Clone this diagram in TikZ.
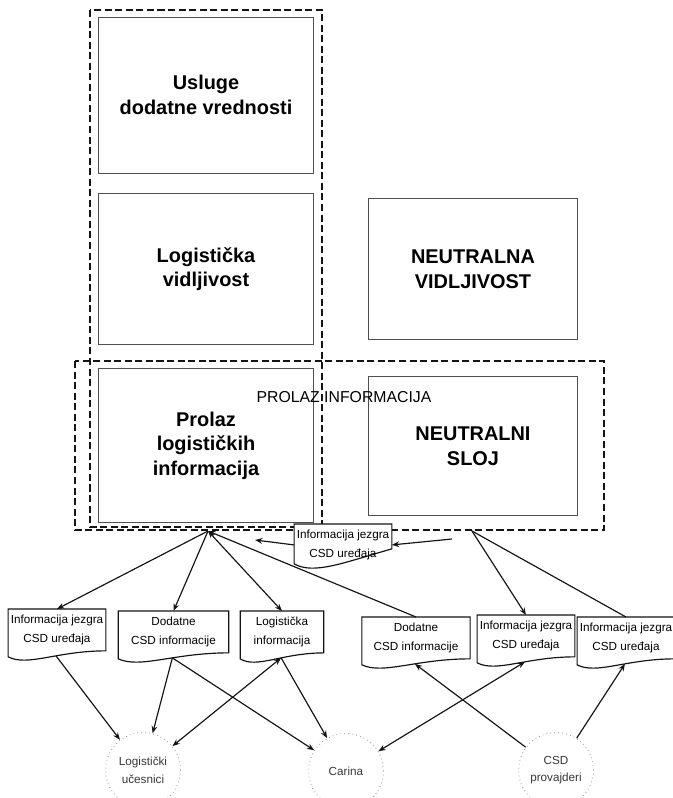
\documentclass[tikz,border=0pt]{standalone}
\usepackage{fontspec}
\setmainfont{Liberation Sans}
\usetikzlibrary{arrows.meta,calc,backgrounds}
\definecolor{ink}{RGB}{20,20,20}
\definecolor{mist}{RGB}{150,150,150}
\tikzset{
  >={Stealth[length=2.2mm,width=1.7mm]},
  sloj/.style={draw=ink!75,line width=0.7pt,align=center,
    font=\fontsize{17}{21}\selectfont\bfseries},
  okvir/.style={draw=ink,line width=2pt,dash pattern=on 6pt off 3pt},
  dok/.style={anchor=north,align=center,inner xsep=2pt,inner ysep=5pt,
    font=\fontsize{10}{16}\selectfont,minimum width=#1},
  dok/.default=83pt,
  dokrub/.style={draw=ink,fill=white,line width=1pt},
  ucesnik/.style={circle,draw=mist,line width=0.8pt,dash pattern=on 0.6pt off 2.8pt,
    minimum size=64pt,align=center,font=\fontsize{10}{15}\selectfont,text=ink!85},
  tok/.style={->,draw=ink,line width=1pt},
}
\begin{document}
\begin{tikzpicture}[x=0.03cm,y=-0.03cm]
  \useasboundingbox (0,0) rectangle (673,798);
  % slojevi
  \node[sloj,minimum width=184pt,minimum height=133pt] (usluge) at (206,95) {Usluge\\dodatne vrednosti};
  \node[sloj,minimum width=184pt,minimum height=129pt] (logvid) at (206,269) {Logistička\\vidljivost};
  \node[sloj,minimum width=184pt,minimum height=132pt] (prolaz) at (206,445.5) {Prolaz\\logističkih\\informacija};
  \node[sloj,minimum width=178pt,minimum height=121pt] (neuvid) at (473,269) {NEUTRALNA\\VIDLJIVOST};
  \node[sloj,minimum width=178pt,minimum height=118pt] (neusloj) at (473,446) {NEUTRALNI\\SLOJ};
  \node[font=\fontsize{13.5}{15}\selectfont] (prolazinf) at (344,397) {PROLAZ INFORMACIJA};
  \coordinate (hubL) at (208,531);
  \coordinate (hubR) at (472,531);
  \coordinate (pL) at (255,540);
  \coordinate (pR) at (452,539);
  % dokumenti
  \node[dok] (mid) at (343,524) {Informacija jezgra\\CSD uređaja};
  \node[dok] (d1) at (57,609) {Informacija jezgra\\CSD uređaja};
  \node[dok=94pt] (d2) at (173.5,611) {Dodatne\\CSD informacije};
  \node[dok=71pt] (d3) at (282,611) {Logistička\\informacija};
  \node[dok=92pt] (d4) at (416,617) {Dodatne\\CSD informacije};
  \node[dok] (d5) at (526,615) {Informacija jezgra\\CSD uređaja};
  \node[dok] (d6) at (626,617) {Informacija jezgra\\CSD uređaja};
  \begin{scope}[on background layer]
    % grupe
    \draw[okvir] (90,10) rectangle (322,527);
    \draw[okvir] (75,361) rectangle (604,530);
    % list sa talasastim dnom
    \foreach \d/\r/\a/\b/\c in {d1/0/0/16/6,d2/0/0/16/6,d3/0/0/16/6,d4/0/0/16/6,
        d5/0/0/16/6,d6/0/0/16/6,mid/-17/14/26/15}{
      \draw[dokrub] (\d.north west) -- (\d.north east) -- ($(\d.south east)+(0,\r)$)
        .. controls ($(\d.south)+(0,\r+\a)$) and ($(\d.south west)!0.2!(\d.south east)+(0,\r+\b)$)
        .. ($(\d.south west)+(0,\r+\c)$) coordinate[pos=0.4] (\d-w) -- cycle;
    }
  \end{scope}
  % ucesnici
  \node[ucesnik] (lu) at (143,770) {Logistički\\učesnici};
  \node[ucesnik] (ca) at (346,771) {Carina};
  \node[ucesnik] (pv) at (556,770) {CSD\\provajderi};
  % tokovi
  \draw[tok] (hubL) -- (d1.north);
  \draw[tok] (hubL) -- (d2.north);
  \draw[tok,<->] (hubL) -- (d3.north);
  \draw[tok] (d4.north) -- (hubL);
  \draw[tok] (hubR) -- (d5.north);
  \draw[tok,-] (hubR) -- (d6.north);
  \draw[tok] (mid.west) -- (pL);
  \draw[tok] (pR) -- (mid.east);
  \draw[tok] (d1-w) -- (lu);
  \draw[tok] (d2-w) -- (lu);
  \draw[tok] (d2-w) -- (ca);
  \draw[tok,<->] (d3-w) -- (lu);
  \draw[tok] (d3-w) -- (ca);
  \draw[tok,<->] (d5-w) -- (ca);
  \draw[tok] (pv) -- (d4-w);
  \draw[tok] (pv) -- (d6-w);
\end{tikzpicture}
\end{document}
